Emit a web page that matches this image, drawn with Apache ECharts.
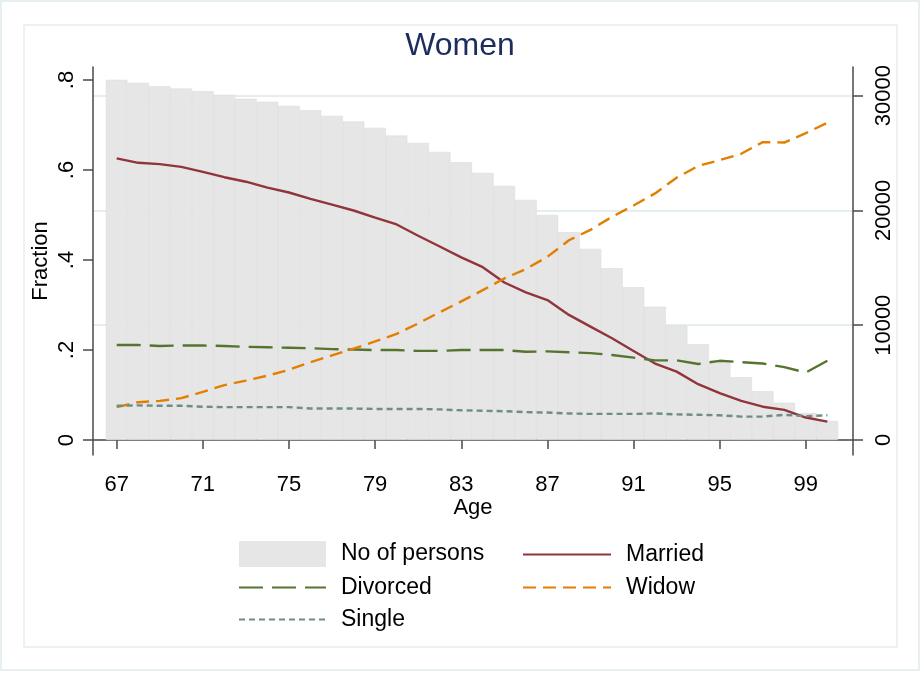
<!DOCTYPE html>
<html>
<head>
<meta charset="utf-8">
<script src="https://cdn.jsdelivr.net/npm/echarts@6/dist/echarts.min.js"></script>
<style>
  html, body { margin: 0; padding: 0; background: #fff; }
  #chart { width: 920px; height: 673px; }
</style>
</head>
<body>
<div id="chart"></div>
<script>
var ages = [67, 68, 69, 70, 71, 72, 73, 74, 75, 76, 77, 78, 79, 80, 81, 82, 83,
            84, 85, 86, 87, 88, 89, 90, 91, 92, 93, 94, 95, 96, 97, 98, 99, 100];
var persons = [31385, 31124, 30835, 30630, 30398, 30077, 29728, 29467, 29118, 28741, 28246, 27750, 27200, 26530, 25890, 25108, 24210,
               23277, 22144, 20924, 19616, 18107, 16651, 14967, 13312, 11621, 9965, 8343, 6887, 5466, 4246, 3252, 2354, 1656];
var married = [.626, .616, .613, .607, .596, .584, .574, .561, .550, .536, .523, .510, .494, .479, .454, .430, .406,
               .384, .350, .328, .311, .278, .252, .226, .198, .170, .152, .124, .104, .087, .074, .067, .050, .041];
var divorced = [.211, .211, .209, .210, .210, .209, .207, .206, .205, .204, .202, .201, .200, .200, .198, .198, .200,
                .200, .200, .196, .197, .195, .193, .189, .183, .177, .177, .169, .176, .173, .170, .162, .150, .176];
var widow = [.073, .084, .087, .093, .107, .122, .132, .143, .156, .173, .188, .203, .219, .236, .259, .284, .308,
             .333, .359, .380, .407, .444, .467, .496, .521, .548, .583, .609, .622, .636, .662, .661, .682, .705];
var single = [.076, .077, .076, .076, .074, .073, .073, .073, .073, .070, .070, .070, .069, .069, .069, .068, .066,
              .065, .064, .062, .061, .059, .058, .058, .058, .059, .057, .056, .055, .052, .052, .056, .053, .055];

var ageTicks = [67, 71, 75, 79, 83, 87, 91, 95, 99];
var fracTicks = [0, 0.2, 0.4, 0.6, 0.8];
var countTicks = [0, 10000, 20000, 30000];

var font = "'Liberation Sans', Arial, sans-serif";
var axisCol = '#4a4a4a';
var gridCol = '#e4eef1';

function pairs(vals) {
    return ages.map(function (a, i) { return [a, vals[i]]; });
}

function lineSeries(name, vals, color, dash) {
    return {
        name: name,
        type: 'line',
        yAxisIndex: 0,
        symbol: 'none',
        data: pairs(vals),
        lineStyle: { color: color, width: 2.4, type: dash },
        itemStyle: { color: color },
        z: 3
    };
}

// legend entry for a line: hide the marker, keep the dashed line
function lineItem(name) {
    return { name: name, itemStyle: { opacity: 0 } };
}

var legendText = { fontFamily: font, fontSize: 23, color: '#000', padding: [0, 0, 0, 10] };

var chart = echarts.init(document.getElementById('chart'));

var option = {
    animation: false,
    backgroundColor: '#fff',
    textStyle: { fontFamily: font },
    title: {
        text: 'Women',
        left: 'center',
        top: 30,
        padding: 0,
        textStyle: { fontFamily: font, fontSize: 32, fontWeight: 'normal', color: '#1c2d5c' }
    },
    graphic: [
        { type: 'rect', shape: { x: 1, y: 1, width: 918, height: 669 }, style: { fill: null, stroke: '#e8eff2', lineWidth: 2 }, z: -10 },
        { type: 'rect', shape: { x: 24, y: 25, width: 873, height: 622 }, style: { fill: null, stroke: '#e6eef1', lineWidth: 1.5 }, z: -10 }
    ],
    grid: { left: 93, right: 67, top: 67, bottom: 218 },
    legend: [{
        orient: 'vertical',
        left: 238,
        top: 541,
        padding: 0,
        itemWidth: 87,
        itemHeight: 26,
        itemGap: 9,
        textStyle: legendText,
        data: [
            { name: 'No of persons', icon: 'rect', itemStyle: { borderWidth: 0 } },
            lineItem('Divorced'),
            lineItem('Single')
        ]
    }, {
        orient: 'vertical',
        left: 522,
        top: 543,
        padding: 0,
        itemWidth: 88,
        itemHeight: 26,
        itemGap: 10,
        textStyle: legendText,
        data: [lineItem('Married'), lineItem('Widow')]
    }],
    xAxis: {
        type: 'value',
        min: 65.9,
        max: 101.19,
        name: 'Age',
        nameLocation: 'middle',
        nameGap: 42,
        nameMoveOverlap: false,
        nameTextStyle: { fontFamily: font, fontSize: 22, color: '#000' },
        axisLine: { lineStyle: { color: axisCol, width: 1.5 } },
        axisTick: { customValues: ageTicks, length: 9, lineStyle: { color: axisCol, width: 1.5 } },
        axisLabel: { customValues: ageTicks, margin: 19, fontFamily: font, fontSize: 22, color: '#000' },
        splitLine: { show: false }
    },
    yAxis: [{
        type: 'value',
        position: 'left',
        min: -0.0333,
        max: 0.8289,
        name: 'Fraction',
        nameLocation: 'middle',
        nameRotate: 90,
        nameGap: 41,
        nameMoveOverlap: false,
        nameTextStyle: { fontFamily: font, fontSize: 22, color: '#000' },
        axisLine: { show: true, lineStyle: { color: axisCol, width: 1.5 } },
        axisTick: { show: true, customValues: fracTicks, length: 10, lineStyle: { color: axisCol, width: 1.5 } },
        axisLabel: {
            customValues: fracTicks, rotate: 90, margin: 15, fontFamily: font, fontSize: 22, color: '#000',
            formatter: function (v) { return v === 0 ? '0' : v.toFixed(1).replace(/^0/, ''); }
        },
        splitLine: { show: false }
    }, {
        type: 'value',
        position: 'right',
        min: -1307,
        max: 32501,
        axisLine: { show: true, lineStyle: { color: axisCol, width: 1.5 } },
        axisTick: { show: true, customValues: countTicks, length: 10, lineStyle: { color: axisCol, width: 1.5 } },
        axisLabel: {
            customValues: countTicks, rotate: 90, margin: 20, fontFamily: font, fontSize: 22, color: '#000',
            formatter: function (v) { return String(v); }
        },
        splitLine: { show: true, lineStyle: { color: gridCol, width: 2 } }
    }],
    series: [{
        name: 'No of persons',
        type: 'bar',
        yAxisIndex: 1,
        barWidth: 21.5,
        data: pairs(persons),
        itemStyle: { color: '#e6e6e6', borderColor: '#dcdcdc', borderWidth: 0.6 },
        z: 1
    },
        lineSeries('Married', married, '#90353b', 'solid'),
        lineSeries('Divorced', divorced, '#55752f', [24, 9]),
        lineSeries('Widow', widow, '#e37e00', [13, 7]),
        lineSeries('Single', single, '#6e8e84', [6, 4])
    ]
};

chart.setOption(option);
</script>
</body>
</html>
